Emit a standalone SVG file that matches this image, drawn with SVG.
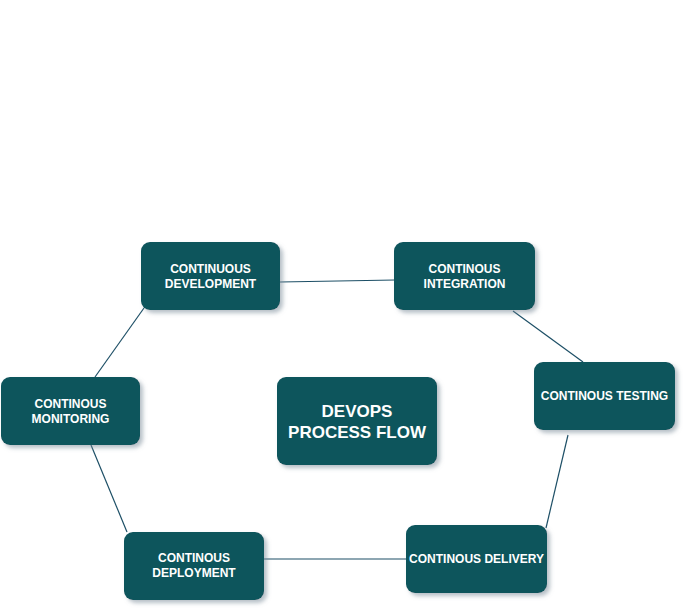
<svg xmlns="http://www.w3.org/2000/svg" width="686" height="613" viewBox="0 0 686 613">
<defs>
<filter id="sh" x="-10%" y="-10%" width="130%" height="140%">
<feDropShadow dx="3" dy="3" stdDeviation="2" flood-color="#7a8a99" flood-opacity="0.55"/>
</filter>
<style>
.box{fill:#0f545c;filter:url(#sh);}
.t{font-family:"Liberation Sans",Arial,sans-serif;font-weight:bold;font-size:12px;fill:#ffffff;text-anchor:middle;}
.big{font-size:17px;}
.c{stroke:#1d4f66;stroke-width:1.2;fill:none;}
</style>
</defs>
<rect width="686" height="613" fill="#ffffff"/>
<g id="connectors">
<line class="c" x1="280" y1="282" x2="395" y2="280"/>
<line class="c" x1="513" y1="311" x2="583" y2="362"/>
<line class="c" x1="568" y1="435" x2="546" y2="528"/>
<line class="c" x1="406" y1="559" x2="264" y2="559"/>
<line class="c" x1="127" y1="532" x2="91" y2="445"/>
<line class="c" x1="95" y1="377" x2="144" y2="308"/>
</g>
<g id="dev"><rect class="box" x="141" y="242" width="139" height="68" rx="9"/><text class="t" x="210.5" y="273">CONTINUOUS</text><text class="t" x="210.5" y="288">DEVELOPMENT</text></g>
<g id="integ"><rect class="box" x="394" y="242" width="141" height="68" rx="9"/><text class="t" x="464.5" y="273">CONTINOUS</text><text class="t" x="464.5" y="288">INTEGRATION</text></g>
<g id="center"><rect class="box" x="277" y="377" width="160" height="88" rx="9"/><text class="t big" x="357" y="417">DEVOPS</text><text class="t big" x="357" y="438">PROCESS FLOW</text></g>
<g id="testing"><rect class="box" x="534" y="362" width="141" height="68" rx="9"/><text class="t" x="604.5" y="400">CONTINOUS TESTING</text></g>
<g id="monitoring"><rect class="box" x="1" y="377" width="139" height="68" rx="9"/><text class="t" x="70.5" y="408">CONTINOUS</text><text class="t" x="70.5" y="423">MONITORING</text></g>
<g id="delivery"><rect class="box" x="406" y="525" width="141" height="68" rx="9"/><text class="t" x="476.5" y="563">CONTINOUS DELIVERY</text></g>
<g id="deployment"><rect class="box" x="124" y="532" width="140" height="68" rx="9"/><text class="t" x="194" y="562">CONTINOUS</text><text class="t" x="194" y="577">DEPLOYMENT</text></g>
</svg>
